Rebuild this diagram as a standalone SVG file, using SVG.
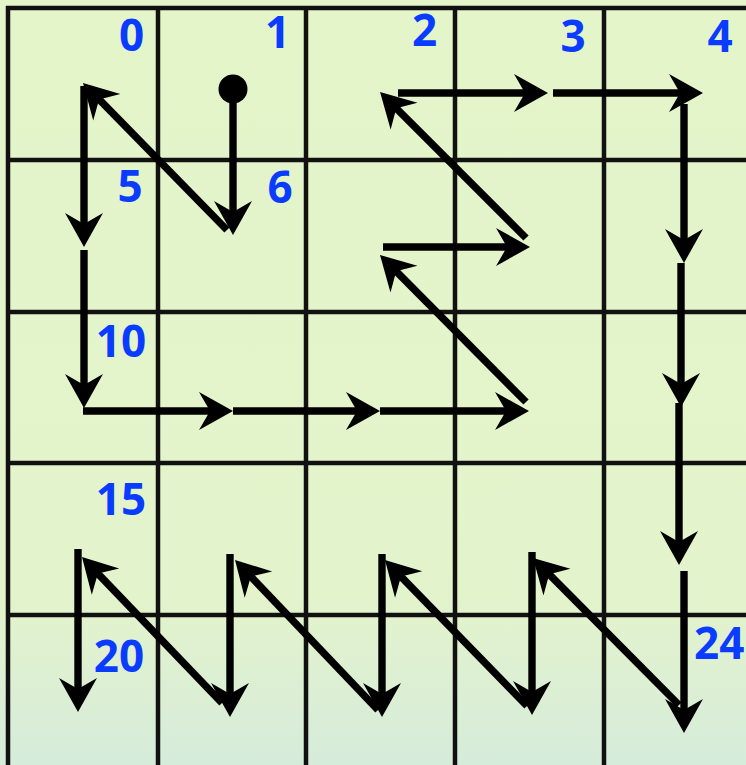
<svg xmlns="http://www.w3.org/2000/svg" width="746" height="765" viewBox="0 0 746 765">
<defs>
<linearGradient id="bg" x1="0" y1="0" x2="0" y2="765" gradientUnits="userSpaceOnUse">
<stop offset="0" stop-color="#e5f5ca"/>
<stop offset="0.78" stop-color="#e3f3cb"/>
<stop offset="1" stop-color="#d6ecdb"/>
</linearGradient>
<marker id="ah" markerUnits="userSpaceOnUse" markerWidth="60" markerHeight="60" viewBox="-30 -30 60 60" refX="2" refY="0" orient="auto" overflow="visible">
<path d="M24,0 L-10,-19 L1,0 L-10,19 Z" fill="#000"/>
</marker>
<style>
.grid line{stroke:#111;stroke-width:4.5}
.conn line{stroke:#000;stroke-width:7.4;fill:none;marker-end:url(#ah)}
.lbl{font-family:"Open Sans","DejaVu Sans",sans-serif;font-weight:700;font-size:44px;fill:#0a3cff;text-anchor:middle}
</style>
</defs>
<rect x="0" y="0" width="746" height="765" fill="url(#bg)"/>
<g class="grid" id="grid">
<line x1="6" y1="8" x2="746" y2="8"/>
<line x1="6" y1="160" x2="746" y2="160"/>
<line x1="6" y1="312" x2="746" y2="312"/>
<line x1="6" y1="463" x2="746" y2="463"/>
<line x1="6" y1="615" x2="746" y2="615"/>
<line x1="8" y1="6" x2="8" y2="765"/>
<line x1="158" y1="6" x2="158" y2="765"/>
<line x1="306" y1="6" x2="306" y2="765"/>
<line x1="455" y1="6" x2="455" y2="765"/>
<line x1="604" y1="6" x2="604" y2="765"/>
</g>
<g id="cell-0"><text class="lbl" x="131.5" y="51">0</text></g>
<g id="cell-1"><text class="lbl" x="277.5" y="48">1</text></g>
<g id="cell-2"><text class="lbl" x="424.5" y="46">2</text></g>
<g id="cell-3"><text class="lbl" x="573" y="52">3</text></g>
<g id="cell-4"><text class="lbl" x="720" y="52">4</text></g>
<g id="cell-5"><text class="lbl" x="130" y="202">5</text></g>
<g id="cell-6"><text class="lbl" x="280" y="203">6</text></g>
<g id="cell-10"><text class="lbl" x="121" y="357">10</text></g>
<g id="cell-15"><text class="lbl" x="121" y="515">15</text></g>
<g id="cell-20"><text class="lbl" x="119" y="672">20</text></g>
<g id="cell-24"><text class="lbl" x="694" y="659" style="text-anchor:start">24</text></g>
<g id="start"><circle cx="233" cy="89" r="14.5" fill="#000"/></g>
<g class="conn" id="connectors">
<line x1="233" y1="89" x2="233" y2="213"/>
<line x1="227" y1="230" x2="98.4" y2="98.7"/>
<line x1="84" y1="86" x2="84" y2="225"/>
<line x1="84" y1="250" x2="84" y2="386"/>
<line x1="83" y1="411" x2="211" y2="411"/>
<line x1="233" y1="411" x2="358" y2="411"/>
<line x1="380" y1="411" x2="507" y2="411"/>
<line x1="526" y1="402" x2="395.5" y2="270.6"/>
<line x1="383" y1="247" x2="508" y2="247"/>
<line x1="526" y1="238" x2="395.6" y2="107.6"/>
<line x1="398" y1="93" x2="526" y2="93"/>
<line x1="553" y1="93" x2="681" y2="93"/>
<line x1="684" y1="104" x2="684" y2="241"/>
<line x1="681" y1="263" x2="681" y2="385"/>
<line x1="679" y1="403" x2="679" y2="543"/>
<line x1="684" y1="571" x2="684" y2="711"/>
<line x1="679" y1="705" x2="548.5" y2="573.6"/>
<line x1="532" y1="552" x2="532" y2="693"/>
<line x1="527" y1="706" x2="400.3" y2="575.8"/>
<line x1="382" y1="554" x2="382" y2="695"/>
<line x1="378" y1="710" x2="250.2" y2="575.9"/>
<line x1="230" y1="554" x2="230" y2="695"/>
<line x1="222" y1="703" x2="97.2" y2="572.9"/>
<line x1="78" y1="549" x2="78" y2="690"/>
</g>
</svg>
